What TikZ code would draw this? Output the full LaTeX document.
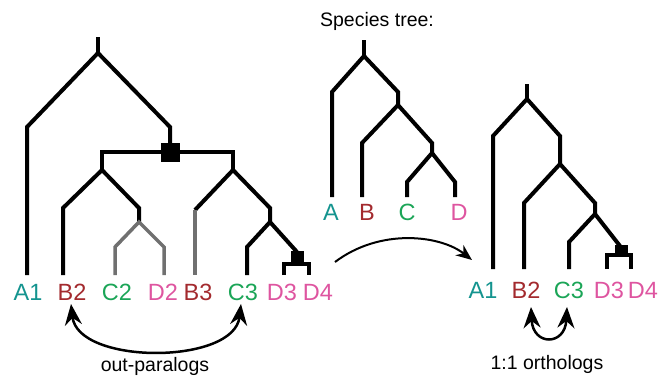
\documentclass[tikz,border=0pt]{standalone}
\usepackage{fontspec}
\setmainfont{Liberation Sans}
\usepackage{tikz}
\usetikzlibrary{arrows.meta,positioning,calc}

\definecolor{spA}{HTML}{14948F}
\definecolor{spB}{HTML}{A32A2E}
\definecolor{spC}{HTML}{1BA557}
\definecolor{spD}{HTML}{DE55A0}
\definecolor{lossgray}{HTML}{707070}

\begin{document}
\begin{tikzpicture}[
  x=1pt,y=-1pt,
  branch/.style={line width=4pt,line join=miter},
  lostbranch/.style={line width=3.5pt,draw=lossgray},
  dup/.style={fill=black,inner sep=0pt,minimum width=19pt,minimum height=19pt},
  smalldup/.style={fill=black,inner sep=0pt,minimum width=13pt,minimum height=12pt},
  gene/.style={anchor=base,font=\fontsize{23.5}{24}\selectfont},
  caption/.style={font=\fontsize{19.5}{20}\selectfont},
  pair/.style={{Stealth[length=21pt,width=17pt,inset=7pt]}-{Stealth[length=21pt,width=17pt,inset=7pt]},
               line width=2.5pt},
  map/.style={-{Stealth[length=16pt,width=13pt,inset=5pt]},line width=2pt}
]
\useasboundingbox (0,0) rectangle (659,378);

% Gene tree: duplication before the B/C/D split, and one within D
\coordinate (gRoot) at (98,53);
\coordinate (gDup) at (170,152);
\coordinate (gBC) at (102,170);
\coordinate (gCD) at (139,222);
\coordinate (gBCD) at (233,170);
\coordinate (gCD3) at (270,222);
\draw[branch] (98,37) -- (gRoot);
\draw[branch] (27,275) -- (27,127) -- (gRoot) -- (170,127) -- (gDup);
\draw[branch] (gBC) -- (102,152) -- (233,152) -- (gBCD);
\draw[branch] (63,275) -- (63,208) -- (gBC) -- (139,208) -- (gCD);
\draw[lostbranch] (115,275) -- (115,247) -- (gCD) -- (164,247) -- (164,275);
\draw[branch] (195,210) -- (gBCD) -- (270,208) -- (gCD3);
\draw[lostbranch] (195,210) -- (195,275);
\draw[branch] (247,275) -- (247,247) -- (gCD3) -- (297,252);
\draw[branch] (284,275) -- (284,264) -- (309,264) -- (309,275);
\node[dup] (dupBCD) at (gDup) {};
\node[smalldup] (dupD) at (297,257) {};

\node[gene,text=spA] (gA1) at (28,300) {A1};
\node[gene,text=spB] (gB2) at (72,300) {B2};
\node[gene,text=spC] (gC2) at (117,300) {C2};
\node[gene,text=spD] (gD2) at (163,300) {D2};
\node[gene,text=spB] (gB3) at (198,300) {B3};
\node[gene,text=spC] (gC3) at (243,300) {C3};
\node[gene,text=spD] (gD3) at (282,300) {D3};
\node[gene,text=spD] (gD4) at (318,300) {D4};

% out-paralogs
\coordinate (oB2) at (71,304);
\coordinate (oC3) at (241,304);
\draw[pair] (oB2) .. controls (78,365) and (234,365) .. (oC3);
\node[caption] (outpar) at (155,366) {out-paralogs};

% Species tree
\node[caption] (sptitle) at (377,21) {Species tree:};
\coordinate (sRoot) at (364,56);
\coordinate (sBCD) at (398,105);
\coordinate (sCD) at (432,153);
\draw[branch] (364,40) -- (sRoot);
\draw[branch] (332,197) -- (332,92) -- (sRoot) -- (398,92) -- (sBCD);
\draw[branch] (362,197) -- (362,143) -- (sBCD) -- (432,143) -- (sCD);
\draw[branch] (407,197) -- (407,182) -- (sCD) -- (455,182) -- (455,197);
\node[gene,text=spA] (sA) at (331,220) {A};
\node[gene,text=spB] (sB) at (367,220) {B};
\node[gene,text=spC] (sC) at (407,220) {C};
\node[gene,text=spD] (sD) at (459,220) {D};

% reconciled tree after removing out-paralogs
\coordinate (mFrom) at (335,262);
\coordinate (mTo) at (472,260);
\draw[map] (mFrom) .. controls (380,228) and (440,235) .. (mTo);

\coordinate (rRoot) at (527,99);
\coordinate (rBCD) at (560,164);
\coordinate (rCD) at (595,214);
\draw[branch] (527,84) -- (rRoot);
\draw[branch] (493,269) -- (493,136) -- (rRoot) -- (560,136) -- (rBCD);
\draw[branch] (524,269) -- (524,203) -- (rBCD) -- (595,203) -- (rCD);
\draw[branch] (569,269) -- (569,242) -- (rCD) -- (620,246);
\draw[branch] (607,269) -- (607,255) -- (631,255) -- (631,269);
\node[smalldup] (rdupD) at (621,251) {};

\node[gene,text=spA] (rA1) at (483,298) {A1};
\node[gene,text=spB] (rB2) at (526,298) {B2};
\node[gene,text=spC] (rC3) at (569,298) {C3};
\node[gene,text=spD] (rD3) at (609,298) {D3};
\node[gene,text=spD] (rD4) at (643,298) {D4};

% 1:1 orthologs
\coordinate (oB2r) at (531,307);
\coordinate (oC3r) at (567,307);
\draw[pair] (oB2r) .. controls (533,346) and (565,346) .. (oC3r);
\node[caption] (ortho) at (547,364) {1:1 orthologs};
\end{tikzpicture}
\end{document}
